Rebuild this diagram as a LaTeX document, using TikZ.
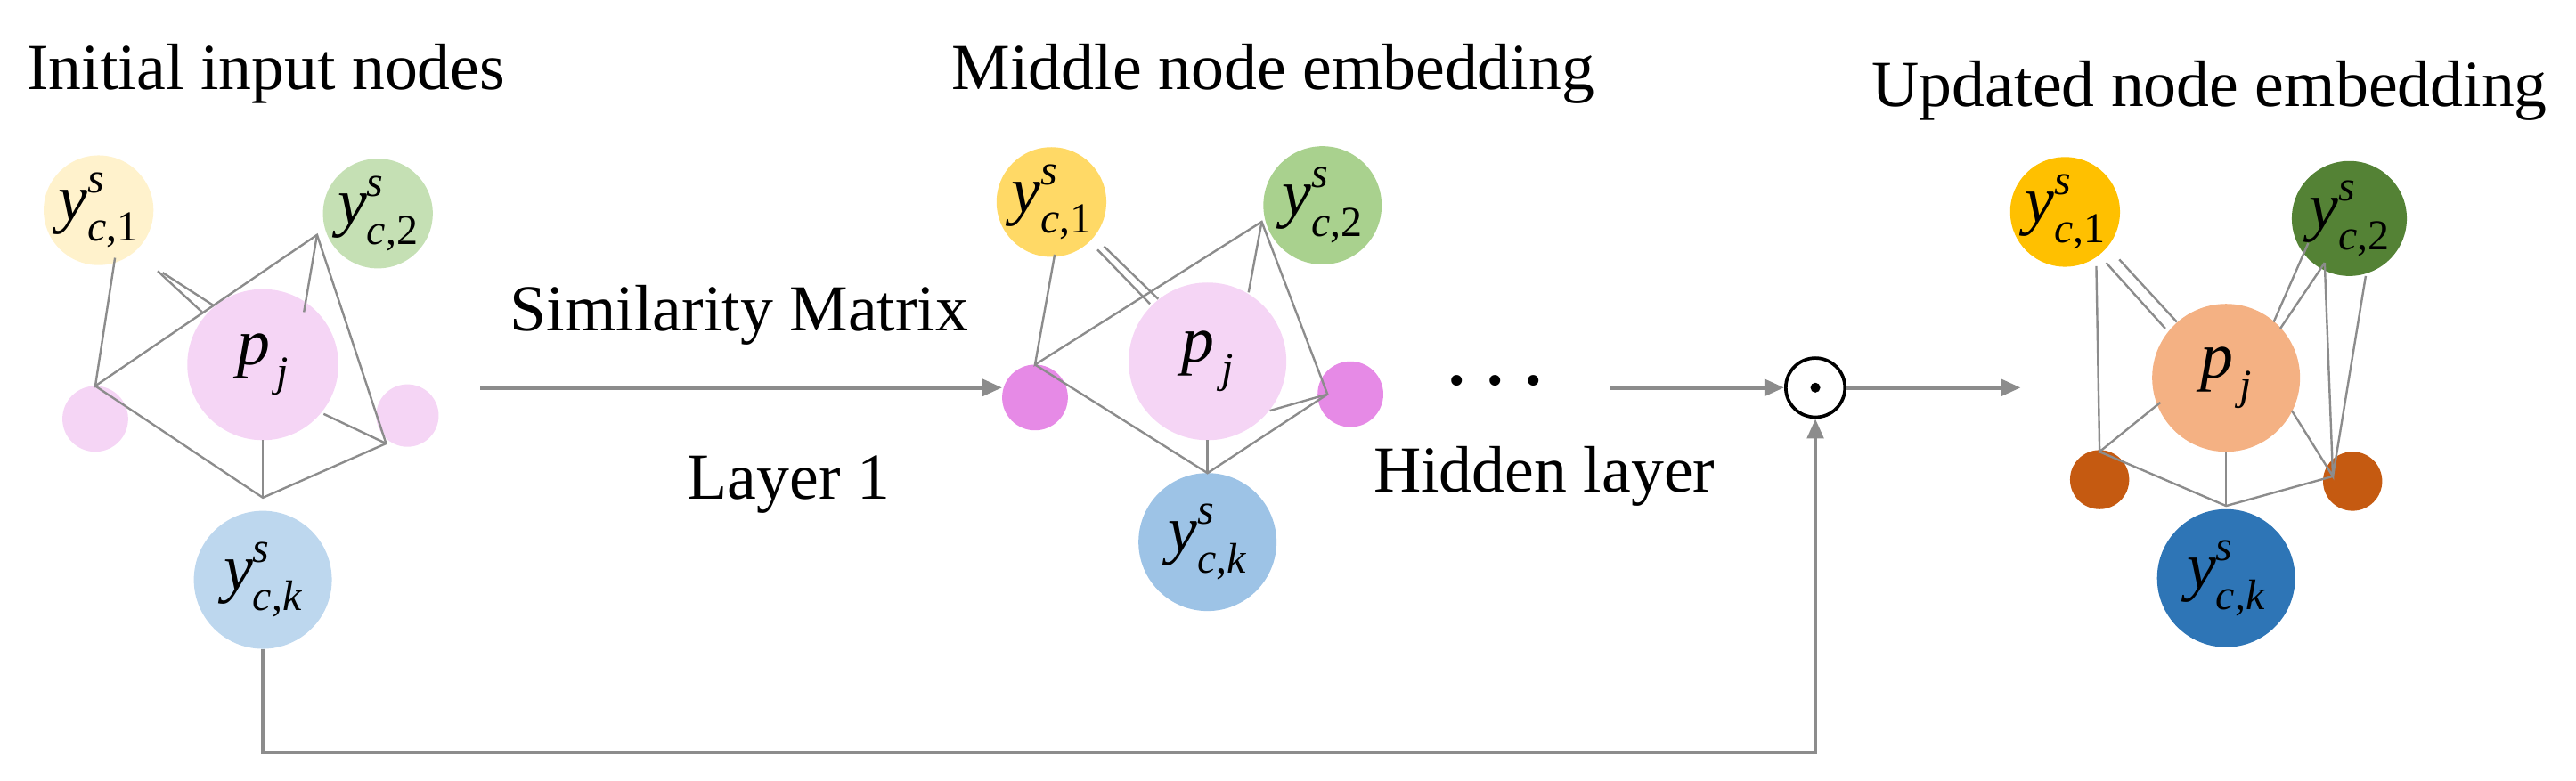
\documentclass[tikz,border=0pt]{standalone}
\usepackage{fontspec}
\setmainfont{Liberation Serif}
\usetikzlibrary{arrows.meta}
\newcommand{\scr}[1]{{\fontsize{26}{28}\selectfont #1}}
\newcommand{\yv}[1]{\textit{y}\rlap{\raisebox{0.42em}{\scr{\textit{s}}}}\raisebox{-0.32em}{\scr{\textit{c},#1}}}
\newcommand{\pv}{\textit{p}\raisebox{-0.32em}{\scr{\,\textit{j}}}}
\begin{document}
\begin{tikzpicture}[x=1pt,y=-1pt,
 c/.style={circle,inner sep=0pt,minimum size=#1},
 ln/.style={draw=gray!90,line width=1.3pt},
 ar/.style={draw=gray!90,line width=2.5pt,-{Triangle[length=12pt,width=10pt]}},
 lab/.style={font=\fontsize{40}{46}\selectfont},
 tt/.style={font=\fontsize{40}{46}\selectfont}]
\useasboundingbox (0,0) rectangle (1568,475);
% group 1
\node[c=60pt,fill={rgb,255:red,255;green,242;blue,204},lab] (a1) at (60,128) {\yv{1}};
\node[c=66pt,fill={rgb,255:red,197;green,224;blue,180},lab] (a2) at (230,130) {\yv{2}};
\node[c=92pt,fill={rgb,255:red,245;green,213;blue,245},lab] (ap) at (160,222) {\pv};
\node[c=40pt,fill={rgb,255:red,245;green,213;blue,245}] (al) at (58,255) {};
\node[c=38pt,fill={rgb,255:red,245;green,213;blue,245}] (ar) at (248,253) {};
\node[c=84pt,fill={rgb,255:red,189;green,215;blue,238},lab] (ak) at (160,353) {\yv{\textit{k}}};
\coordinate (A) at (58,235); \coordinate (B) at (193,143);
\coordinate (C) at (235,270); \coordinate (D) at (160,303);
\draw[ln] (70,157) -- (A) -- (B) -- (C) -- (D) -- (A);
\draw[ln] (B) -- (185,190); \draw[ln] (D) -- (160,268);
\draw[ln] (96,165) -- (123,190); \draw[ln] (99,166) -- (130,186);
\draw[ln] (197,252) -- (C);
\node[tt] (t1) at (162,45) {Initial input nodes};
% arrow 1
\coordinate (s1) at (292,236); \coordinate (e1) at (610,236);
\draw[ar] (s1) -- (e1);
\node[tt] (sm) at (450,192) {Similarity Matrix};
\node[tt] (l1) at (480,295) {Layer 1};
% group 2
\node[c=64pt,fill={rgb,255:red,255;green,217;blue,102},lab] (b1) at (640,123) {\yv{1}};
\node[c=72pt,fill={rgb,255:red,169;green,209;blue,142},lab] (b2) at (805,125) {\yv{2}};
\node[c=96pt,fill={rgb,255:red,245;green,213;blue,245},lab] (bp) at (735,220) {\pv};
\node[c=40pt,fill={rgb,255:red,230;green,138;blue,230}] (bl) at (630,242) {};
\node[c=40pt,fill={rgb,255:red,230;green,138;blue,230}] (br) at (822,240) {};
\node[c=84pt,fill={rgb,255:red,157;green,195;blue,230},lab] (bk) at (735,330) {\yv{\textit{k}}};
\coordinate (A2) at (630,222); \coordinate (B2) at (768,135);
\coordinate (C2) at (808,240); \coordinate (D2) at (735,288);
\draw[ln] (642,155) -- (A2) -- (B2) -- (C2) -- (D2) -- (A2);
\draw[ln] (B2) -- (760,178); \draw[ln] (D2) -- (735,268);
\draw[ln] (668,152) -- (700,185); \draw[ln] (672,150) -- (705,182);
\draw[ln] (773,250) -- (C2);
\node[tt] (t2) at (775,45) {Middle node embedding};
\node[font=\fontsize{40}{46}\selectfont\bfseries] (dots) at (910,232) {. . .};
\node[tt] (hl) at (940,290) {Hidden layer};
% odot
\node[circle,draw=black,line width=2pt,minimum size=36pt,inner sep=0pt] (od) at (1105,236) {};
\fill (od.center) circle (3pt);
\coordinate (s2) at (980,236);
\draw[ar] (s2) -- (od.west);
\coordinate (e3) at (1230,236);
\draw[ar] (od.east) -- (e3);
\coordinate (q1) at (160,458); \coordinate (q2) at (1105,458);
\draw[ln,line width=2.2pt,-{Triangle[length=12pt,width=10pt]}] (ak.south) -- (q1) -- (q2) -- (od.south);
% group 3
\node[c=66pt,fill={rgb,255:red,255;green,192;blue,0},lab] (c1) at (1257,129) {\yv{1}};
\node[c=70pt,fill={rgb,255:red,84;green,130;blue,53},lab] (c2) at (1430,133) {\yv{2}};
\node[c=90pt,fill={rgb,255:red,244;green,177;blue,131},lab] (cp) at (1355,230) {\pv};
\node[c=36pt,fill={rgb,255:red,197;green,90;blue,17}] (cl) at (1278,292) {};
\node[c=36pt,fill={rgb,255:red,197;green,90;blue,17}] (cr) at (1432,293) {};
\node[c=84pt,fill={rgb,255:red,46;green,117;blue,182},lab] (ck) at (1355,352) {\yv{\textit{k}}};
\coordinate (A3) at (1278,275); \coordinate (B3) at (1415,160);
\coordinate (C3) at (1420,290); \coordinate (D3) at (1355,308);
\draw[ln] (1276,162) -- (A3) -- (1315,245);
\draw[ln] (1282,160) -- (1318,200); \draw[ln] (1290,158) -- (1325,196);
\draw[ln] (B3) -- (1388,200); \draw[ln] (1405,148) -- (1384,196);
\draw[ln] (B3) -- (C3) -- (1395,250);
\draw[ln] (1440,168) -- (C3);
\draw[ln] (A3) -- (D3) -- (C3); \draw[ln] (D3) -- (1355,275);
\node[tt] (t3) at (1345,55) {Updated node embedding};
\end{tikzpicture}
\end{document}
